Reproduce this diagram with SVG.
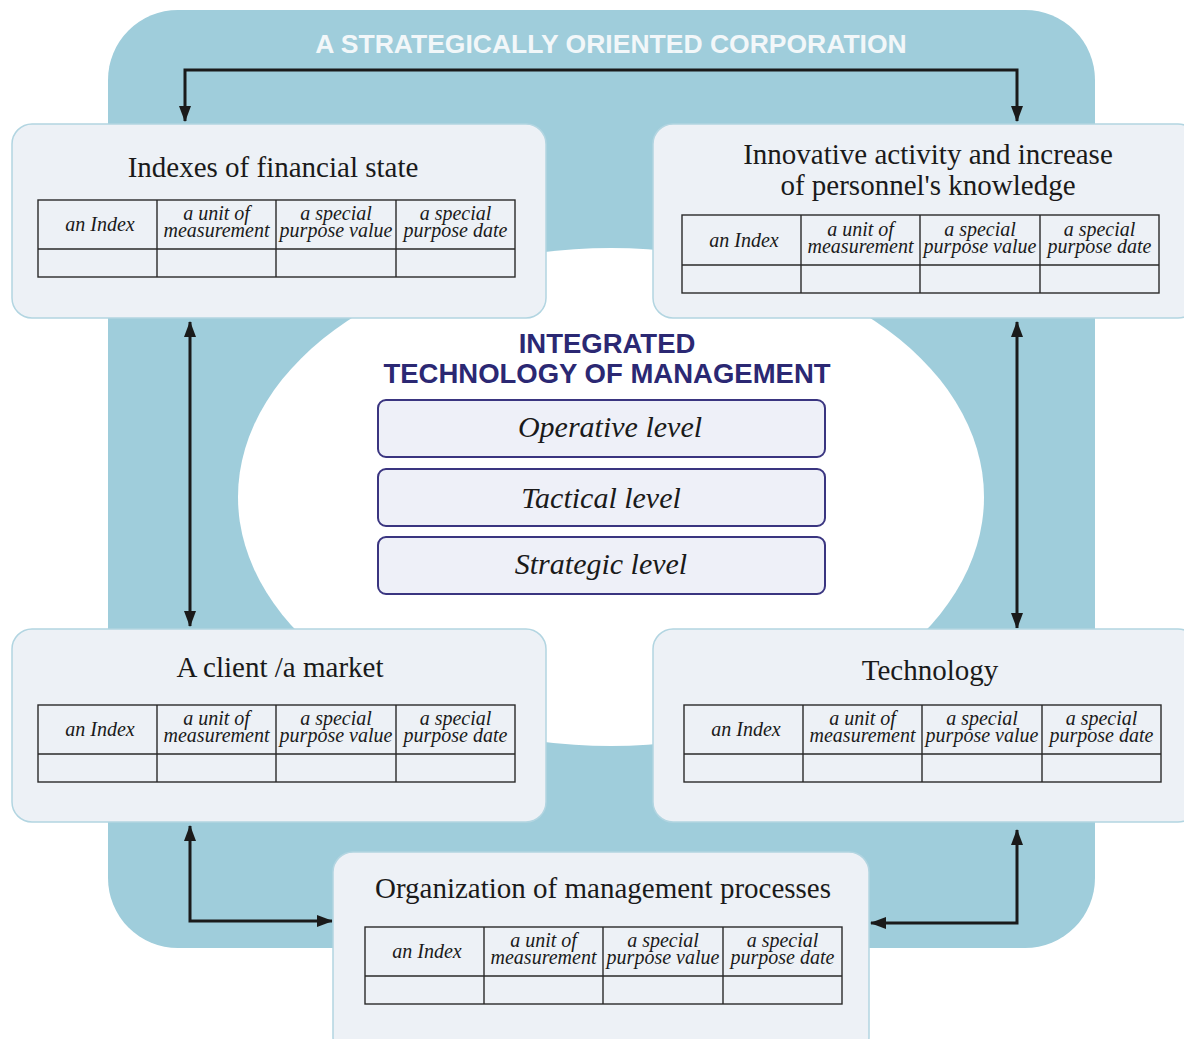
<svg xmlns="http://www.w3.org/2000/svg" width="1184" height="1039" viewBox="0 0 1184 1039">
<style>
.bg{fill:#9fcddb}
.node{fill:#edf1f6;stroke:#b2d5e1;stroke-width:1.5}
.ttl{font-family:"Liberation Serif",serif;font-size:29px;fill:#1a1a1a;text-anchor:middle}
.cell{font-family:"Liberation Serif",serif;font-style:italic;font-size:20px;fill:#1a1a1a;text-anchor:middle}
.tb{fill:none;stroke:#2a2a2a;stroke-width:1.4}
.caps{font-family:"Liberation Sans",Arial,sans-serif;font-weight:bold;text-anchor:middle}
.lvl{fill:#eef0f8;stroke:#3a3580;stroke-width:2}
.lvt{font-family:"Liberation Serif",serif;font-style:italic;font-size:30px;fill:#1a1a1a;text-anchor:middle}
.con{fill:none;stroke:#1a1a1a;stroke-width:3}
</style>
<defs>
<marker id="ah" viewBox="0 0 16 12" refX="15" refY="6" markerWidth="16" markerHeight="12" markerUnits="userSpaceOnUse" orient="auto-start-reverse">
<path d="M0,0 L16,6 L0,12 z" fill="#1a1a1a"/>
</marker>
</defs>
<rect class="bg" x="108" y="10" width="987" height="938" rx="70" ry="70"/>
<text class="caps" x="611" y="53" font-size="26.5" fill="#f2f7f9">A STRATEGICALLY ORIENTED CORPORATION</text>
<ellipse cx="611" cy="497" rx="373" ry="249" fill="#ffffff"/>

<g id="connectors">
<path class="con" d="M185,121 V70 H1017 V121" marker-start="url(#ah)" marker-end="url(#ah)"/>
<path class="con" d="M190,322 V626" marker-start="url(#ah)" marker-end="url(#ah)"/>
<path class="con" d="M1017,322 V628" marker-start="url(#ah)" marker-end="url(#ah)"/>
<path class="con" d="M190,826 V921 H332" marker-start="url(#ah)" marker-end="url(#ah)"/>
<path class="con" d="M1017,830 V923 H871" marker-start="url(#ah)" marker-end="url(#ah)"/>
</g>

<g id="center">
<text class="caps" x="607" y="353" font-size="27.5" fill="#2b2873">INTEGRATED</text>
<text class="caps" x="607" y="383" font-size="27.5" fill="#2b2873">TECHNOLOGY OF MANAGEMENT</text>
<g id="operative"><rect class="lvl" x="378" y="400" width="447" height="57" rx="8"/><text class="lvt" x="610" y="437">Operative level</text></g>
<g id="tactical"><rect class="lvl" x="378" y="469" width="447" height="57" rx="8"/><text class="lvt" x="601" y="508">Tactical level</text></g>
<g id="strategic"><rect class="lvl" x="378" y="537" width="447" height="57" rx="8"/><text class="lvt" x="601" y="574">Strategic level</text></g>
</g>

<g id="n1">
<rect class="node" x="12" y="124" width="534" height="194" rx="20"/>
<text class="ttl" x="273" y="177">Indexes of financial state</text>
<g transform="translate(38,200)">
<rect class="tb" x="0" y="0" width="477" height="77"/>
<path class="tb" d="M0,49 H477 M119,0 V77 M238,0 V77 M358,0 V77"/>
<text class="cell" x="62" y="31">an Index</text>
<text class="cell" x="178.5" y="20">a unit of</text><text class="cell" x="178.5" y="37">measurement</text>
<text class="cell" x="298" y="20">a special</text><text class="cell" x="298" y="37">purpose value</text>
<text class="cell" x="417.5" y="20">a special</text><text class="cell" x="417.5" y="37">purpose date</text>
</g>
</g>

<g id="n2">
<rect class="node" x="653" y="124" width="545" height="194" rx="20"/>
<text class="ttl" x="928" y="164">Innovative activity and increase</text>
<text class="ttl" x="928" y="195">of personnel's knowledge</text>
<g transform="translate(682,215)">
<rect class="tb" x="0" y="0" width="477" height="78"/>
<path class="tb" d="M0,50 H477 M119,0 V78 M238,0 V78 M358,0 V78"/>
<text class="cell" x="62" y="32">an Index</text>
<text class="cell" x="178.5" y="21">a unit of</text><text class="cell" x="178.5" y="38">measurement</text>
<text class="cell" x="298" y="21">a special</text><text class="cell" x="298" y="38">purpose value</text>
<text class="cell" x="417.5" y="21">a special</text><text class="cell" x="417.5" y="38">purpose date</text>
</g>
</g>

<g id="n3">
<rect class="node" x="12" y="629" width="534" height="193" rx="20"/>
<text class="ttl" x="280" y="677">A client /a market</text>
<g transform="translate(38,705)">
<rect class="tb" x="0" y="0" width="477" height="77"/>
<path class="tb" d="M0,49 H477 M119,0 V77 M238,0 V77 M358,0 V77"/>
<text class="cell" x="62" y="31">an Index</text>
<text class="cell" x="178.5" y="20">a unit of</text><text class="cell" x="178.5" y="37">measurement</text>
<text class="cell" x="298" y="20">a special</text><text class="cell" x="298" y="37">purpose value</text>
<text class="cell" x="417.5" y="20">a special</text><text class="cell" x="417.5" y="37">purpose date</text>
</g>
</g>

<g id="n4">
<rect class="node" x="653" y="629" width="545" height="193" rx="20"/>
<text class="ttl" x="930" y="680">Technology</text>
<g transform="translate(684,705)">
<rect class="tb" x="0" y="0" width="477" height="77"/>
<path class="tb" d="M0,49 H477 M119,0 V77 M238,0 V77 M358,0 V77"/>
<text class="cell" x="62" y="31">an Index</text>
<text class="cell" x="178.5" y="20">a unit of</text><text class="cell" x="178.5" y="37">measurement</text>
<text class="cell" x="298" y="20">a special</text><text class="cell" x="298" y="37">purpose value</text>
<text class="cell" x="417.5" y="20">a special</text><text class="cell" x="417.5" y="37">purpose date</text>
</g>
</g>

<g id="n5">
<rect class="node" x="333" y="852" width="536" height="205" rx="20"/>
<text class="ttl" x="603" y="898">Organization of management processes</text>
<g transform="translate(365,927)">
<rect class="tb" x="0" y="0" width="477" height="77"/>
<path class="tb" d="M0,49 H477 M119,0 V77 M238,0 V77 M358,0 V77"/>
<text class="cell" x="62" y="31">an Index</text>
<text class="cell" x="178.5" y="20">a unit of</text><text class="cell" x="178.5" y="37">measurement</text>
<text class="cell" x="298" y="20">a special</text><text class="cell" x="298" y="37">purpose value</text>
<text class="cell" x="417.5" y="20">a special</text><text class="cell" x="417.5" y="37">purpose date</text>
</g>
</g>
</svg>
